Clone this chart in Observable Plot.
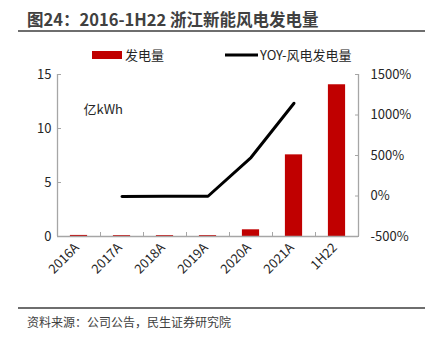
<!DOCTYPE html>
<html><head><meta charset="utf-8">
<script src="https://cdn.jsdelivr.net/npm/d3@7"></script>
<script src="https://cdn.jsdelivr.net/npm/@observablehq/plot@0.6"></script>
<style>
body{margin:0;background:#fff;font-family:"Noto Sans CJK SC","Noto Sans",sans-serif;}
#wrap{position:relative;width:428px;height:339px;overflow:hidden;}
#title{position:absolute;left:27px;top:7px;font-size:16.5px;font-weight:bold;color:#404040;white-space:nowrap;}
#tline{position:absolute;left:18px;top:30px;width:407px;height:2px;background:#6e6e6e;}
#fline{position:absolute;left:18px;top:307px;width:407px;height:2px;background:#6e6e6e;}
#src{position:absolute;left:27px;top:313px;font-size:12px;color:#404040;white-space:nowrap;}
#chart{position:absolute;left:0;top:0;}
</style></head>
<body><div id="wrap">
<div id="chart"></div>
<div id="title">图24：2016-1H22 浙江新能风电发电量</div>
<div id="tline"></div>
<div id="fline"></div>
<div id="src">资料来源：公司公告，民生证券研究院</div>
</div>
<script>
const categories = ["2016A","2017A","2018A","2019A","2020A","2021A","1H22"];
const generation = [0.10, 0.08, 0.08, 0.08, 0.62, 7.56, 14.05];
const yoy = [null, -5, -2, -3, 475, 1145, null];
const leftTicks = [0, 5, 10, 15];
const rightTicks = [-500, 0, 500, 1000, 1500];
const seriesNames = ["发电量", "YOY-风电发电量"];
const unitLabel = "亿kWh";

const Y_MAX = 15, R_MIN = -500, R_MAX = 1500;
const toLeft = v => (v - R_MIN) / (R_MAX - R_MIN) * Y_MAX;

const bars = categories.map((c, i) => ({i, v: generation[i]}));
const line = categories.map((c, i) => ({i, v: yoy[i]})).filter(d => d.v != null).map(d => ({i: d.i, y: toLeft(d.v)}));
const boundaries = d3.range(categories.length + 1).map(k => k - 0.5);
const axisColor = "#a6a6a6";
const tickH = 4 / 10.8;

const plot = Plot.plot({
  width: 428, height: 339,
  marginTop: 74, marginBottom: 103, marginLeft: 57, marginRight: 70,
  style: {fontFamily: '"Noto Sans CJK SC","Noto Sans",sans-serif', fontSize: "13px", color: "#262626", background: "transparent"},
  x: {type: "linear", domain: [-0.5, categories.length - 0.5]},
  y: {domain: [0, Y_MAX]},
  marks: [
    Plot.rectY(bars, {x1: d => d.i - 0.2, x2: d => d.i + 0.2, y1: 0, y2: "v", fill: "#C00000"}),
    Plot.ruleY([0], {stroke: axisColor, strokeWidth: 1.3}),
    Plot.ruleX([boundaries[0], boundaries[boundaries.length - 1]], {y1: 0, y2: Y_MAX, stroke: axisColor, strokeWidth: 1.3}),
    Plot.ruleX(boundaries.slice(1, -1), {y1: 0, y2: tickH, stroke: axisColor, strokeWidth: 1}),
    Plot.line(line, {x: "i", y: "y", stroke: "#000", strokeWidth: 3}),
    Plot.axisX(d3.range(categories.length), {anchor: "bottom", tickSize: 0, tickPadding: 9, dx: -2, tickRotate: -45, tickFormat: i => categories[i], fontSize: 13, label: null}),
    Plot.axisY(leftTicks, {anchor: "left", tickSize: -4, tickPadding: 10, stroke: axisColor, fontSize: 13, label: null}),
    Plot.axisY(rightTicks.map(toLeft), {anchor: "right", tickSize: -4, tickPadding: 16, stroke: axisColor, fontSize: 13, label: null,
      tickFormat: v => Math.round(v / Y_MAX * (R_MAX - R_MIN) + R_MIN) + "%"}),
    Plot.text([unitLabel], {frameAnchor: "top-left", dx: 26, dy: 30, fontSize: 13, textAnchor: "start"})
  ]
});
document.getElementById("chart").appendChild(plot);

// legend (drawn into the svg)
const svg = d3.select(plot);
const lg = svg.append("g").attr("font-size", 13).attr("fill", "#262626").attr("text-anchor", "start");
lg.append("rect").attr("x", 92).attr("y", 51).attr("width", 30).attr("height", 8).attr("fill", "#C00000");
lg.append("text").attr("x", 125).attr("y", 55).attr("dy", "0.35em").text(seriesNames[0]);
lg.append("line").attr("x1", 225).attr("x2", 258).attr("y1", 55).attr("y2", 55).attr("stroke", "#000").attr("stroke-width", 3);
lg.append("text").attr("x", 260).attr("y", 55).attr("dy", "0.35em").text(seriesNames[1]);
</script>
</body></html>
